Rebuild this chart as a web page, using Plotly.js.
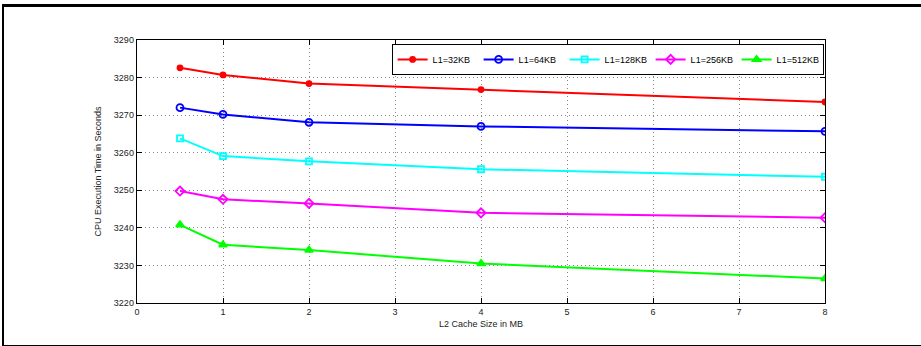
<!DOCTYPE html>
<html>
<head>
<meta charset="utf-8">
<script src="https://cdn.plot.ly/plotly-3.0.1.min.js"></script>
<style>
html,body{margin:0;padding:0;background:#fff;}
#wrap{position:absolute;left:0;top:0;width:921px;height:346px;}
#frame{position:absolute;left:2px;top:4px;width:919px;height:338px;border-top:3px solid #000;border-left:2px solid #000;border-bottom:2px solid #000;box-sizing:content-box;pointer-events:none;}
#chart{position:absolute;left:0;top:0;width:921px;height:346px;}
</style>
</head>
<body>
<div id="wrap">
<div id="chart"></div>
<div id="frame"></div>
</div>
<script>
const l2Size = [0.5, 1, 2, 4, 8];
const seriesNames = ['L1=32KB', 'L1=64KB', 'L1=128KB', 'L1=256KB', 'L1=512KB'];
const l1_32KB  = [3282.6, 3280.7, 3278.4, 3276.8, 3273.5];
const l1_64KB  = [3272.0, 3270.2, 3268.1, 3267.0, 3265.7];
const l1_128KB = [3263.8, 3259.1, 3257.7, 3255.6, 3253.6];
const l1_256KB = [3249.8, 3247.6, 3246.5, 3244.0, 3242.7];
const l1_512KB = [3240.8, 3235.5, 3234.1, 3230.5, 3226.5];
const xTicks = [0, 1, 2, 3, 4, 5, 6, 7, 8];
const yTicks = [3220, 3230, 3240, 3250, 3260, 3270, 3280, 3290];

const seriesValues = [l1_32KB, l1_64KB, l1_128KB, l1_256KB, l1_512KB];
const colors = ['#ff0000', '#0000ff', '#00ffff', '#ff00ff', '#00ff00'];
const symbols = ['circle', 'circle-open', 'square-open', 'diamond-open', 'triangle-up'];
const sizes = [5, 7, 6, 7, 7];

const traces = seriesValues.map((v, i) => ({
  x: l2Size, y: v, name: seriesNames[i], type: 'scatter', mode: 'lines+markers',
  line: {color: colors[i], width: 2},
  marker: {symbol: symbols[i], size: sizes[i], color: colors[i], line: {color: colors[i], width: 1.8}}
}));

const axisCommon = {
  showline: true, mirror: 'allticks', linecolor: '#000', linewidth: 1.3,
  ticks: 'inside', ticklen: 5, tickcolor: '#000', tickwidth: 1,
  showgrid: true, gridcolor: '#8a8a8a', griddash: '1px,3px', gridwidth: 1,
  zeroline: false, tickfont: {family: 'Liberation Sans, Arial', size: 9, color: '#222'}
};

const layout = {
  width: 921, height: 346,
  margin: {l: 137, r: 96, t: 40, b: 43},
  paper_bgcolor: 'rgba(0,0,0,0)', plot_bgcolor: '#fff',
  showlegend: true,
  legend: {
    orientation: 'h', x: 0.998, xanchor: 'right', y: 0.985, yanchor: 'top',
    bgcolor: '#fff', bordercolor: '#000', borderwidth: 1,
    font: {family: 'Liberation Sans, Arial', size: 9, color: '#000'},
    itemwidth: 30, tracegroupgap: 0, entrywidth: 41
  },
  xaxis: Object.assign({}, axisCommon, {
    range: [0, 8], tickvals: xTicks, ticktext: xTicks.map(String),
    title: {text: 'L2 Cache Size in MB', font: {family: 'Liberation Sans, Arial', size: 9, color: '#222'}, standoff: 4}
  }),
  yaxis: Object.assign({}, axisCommon, {
    range: [3220, 3290], tickvals: yTicks, ticktext: yTicks.map(String),
    title: {text: 'CPU Execution Time in Seconds', font: {family: 'Liberation Sans, Arial', size: 9, color: '#222'}, standoff: 10}
  })
};

Plotly.newPlot('chart', traces, layout, {displayModeBar: false, staticPlot: true});
</script>
</body>
</html>
